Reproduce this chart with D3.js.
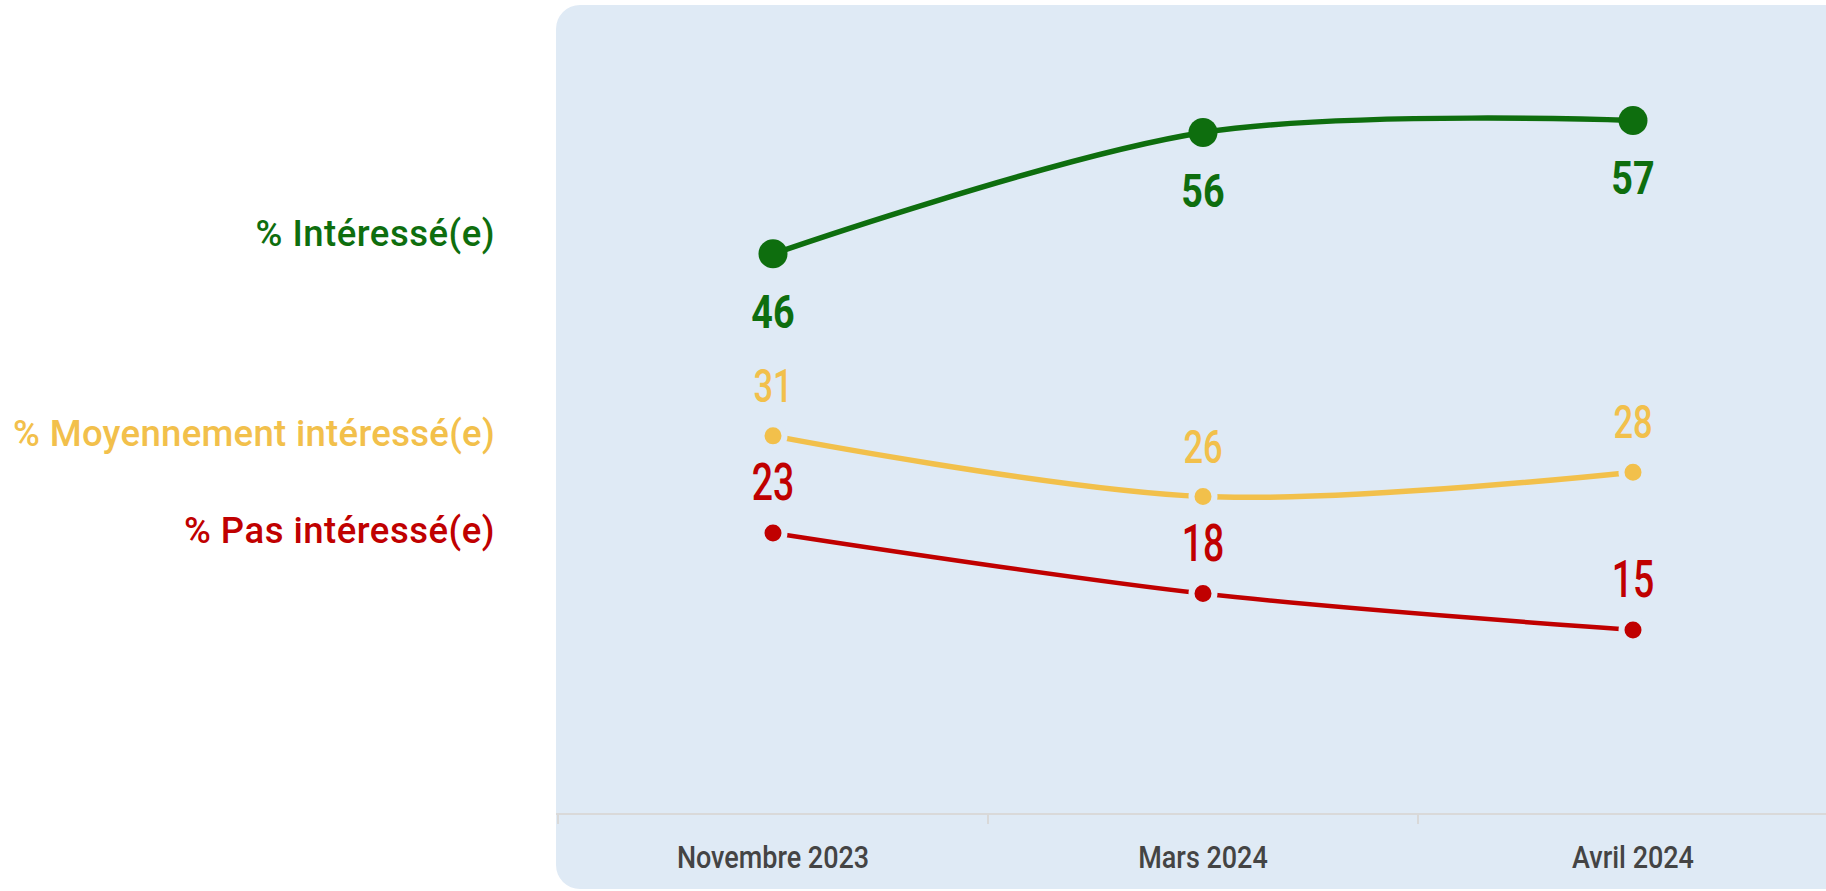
<!DOCTYPE html>
<html>
<head>
<meta charset="utf-8">
<script src="https://cdn.jsdelivr.net/npm/d3@7"></script>
<style>
  html, body { margin: 0; padding: 0; background: #ffffff; }
  svg { display: block; }
</style>
</head>
<body>
<svg id="chart" width="1826" height="891"></svg>
<script>
// ---- data ----
const categories = ["Novembre 2023", "Mars 2024", "Avril 2024"];
const seriesNames = ["% Intéressé(e)", "% Moyennement intéressé(e)", "% Pas intéressé(e)"];
const interesse = [46, 56, 57];
const moyennement = [31, 26, 28];
const pasInteresse = [23, 18, 15];

// ---- styles ----
const seriesStyle = [
  { values: interesse,    color: "#0e6e0e", width: 5.5, r: 14.5, ring: 0, labelDy: 74,  weight: 700, size: 46, sx: 0.82, nameDy: -8, ls: 0.5 },
  { values: moyennement,  color: "#f2c04b", width: 5.5, r: 11.5, ring: 6, labelDy: -34, weight: 500, size: 46, sx: 0.75, nameDy: 10, ls: 0.3 },
  { values: pasInteresse, color: "#c00000", width: 4.5, r: 11.5, ring: 6, labelDy: -33, weight: 500, size: 52, sx: 0.72, nameDy: 10, ls: 0.5 }
];
const panelColor = "#dfeaf5";
const font = "Roboto, 'Noto Sans', sans-serif";

const svg = d3.select("#chart");

// panel
svg.append("rect")
  .attr("x", 556).attr("y", 5)
  .attr("width", 1400).attr("height", 884)
  .attr("rx", 24).attr("ry", 24)
  .attr("fill", panelColor);

const x = d3.scaleBand().domain(categories).range([558, 558 + 3 * 430]).padding(0);
const y = d3.scaleLinear().domain([0, 60]).range([812, 84]);
const cx = c => x(c) + x.bandwidth() / 2;

// x axis
const axisY = 814;
svg.append("line")
  .attr("x1", 556).attr("x2", 1826)
  .attr("y1", axisY).attr("y2", axisY)
  .attr("stroke", "#d9d9d9").attr("stroke-width", 2);

svg.selectAll(".tickb")
  .data(categories)
  .join("line")
  .attr("class", "tickb")
  .attr("x1", d => x(d)).attr("x2", d => x(d))
  .attr("y1", axisY).attr("y2", axisY + 10)
  .attr("stroke", "#d9d9d9").attr("stroke-width", 2);

const axisG = svg.append("g")
  .attr("transform", `translate(0,${axisY})`)
  .call(d3.axisBottom(x).tickSize(0).tickPadding(0));
axisG.select(".domain").remove();
axisG.selectAll("text")
  .attr("dy", null)
  .attr("y", 0)
  .attr("transform", "translate(0,54) scale(0.87,1)")
  .attr("fill", "#444444")
  .style("font-family", font)
  .style("font-weight", 500)
  .style("font-size", "31px");

// lines
const line = d3.line()
  .x((d, i) => cx(categories[i]))
  .y(d => y(d))
  .curve(d3.curveCardinal.tension(0));

seriesStyle.forEach((s, si) => {
  const g = svg.append("g");
  g.append("path")
    .datum(s.values)
    .attr("d", line)
    .attr("fill", "none")
    .attr("stroke", s.color)
    .attr("stroke-width", s.width);

  g.selectAll("circle")
    .data(s.values)
    .join("circle")
    .attr("cx", (d, i) => cx(categories[i]))
    .attr("cy", d => y(d))
    .attr("r", s.r)
    .attr("fill", s.color)
    .attr("stroke", s.ring ? panelColor : "none")
    .attr("stroke-width", s.ring);

  g.selectAll("text.val")
    .data(s.values)
    .join("text")
    .attr("class", "val")
    .attr("transform", (d, i) => `translate(${cx(categories[i])},${y(d) + s.labelDy}) scale(${s.sx},1)`)
    .attr("text-anchor", "middle")
    .attr("fill", s.color)
    .style("font-family", font)
    .style("font-weight", s.weight)
    .style("font-size", s.size + "px")
    .text(d => d);

  // series name on the left
  svg.append("text")
    .attr("x", 495)
    .attr("y", y(s.values[0]) + s.nameDy)
    .attr("text-anchor", "end")
    .attr("fill", s.color)
    .style("font-family", font)
    .style("font-weight", 500)
    .style("font-size", "36.5px")
    .style("letter-spacing", s.ls + "px")
    .text(seriesNames[si]);
});
</script>
</body>
</html>
